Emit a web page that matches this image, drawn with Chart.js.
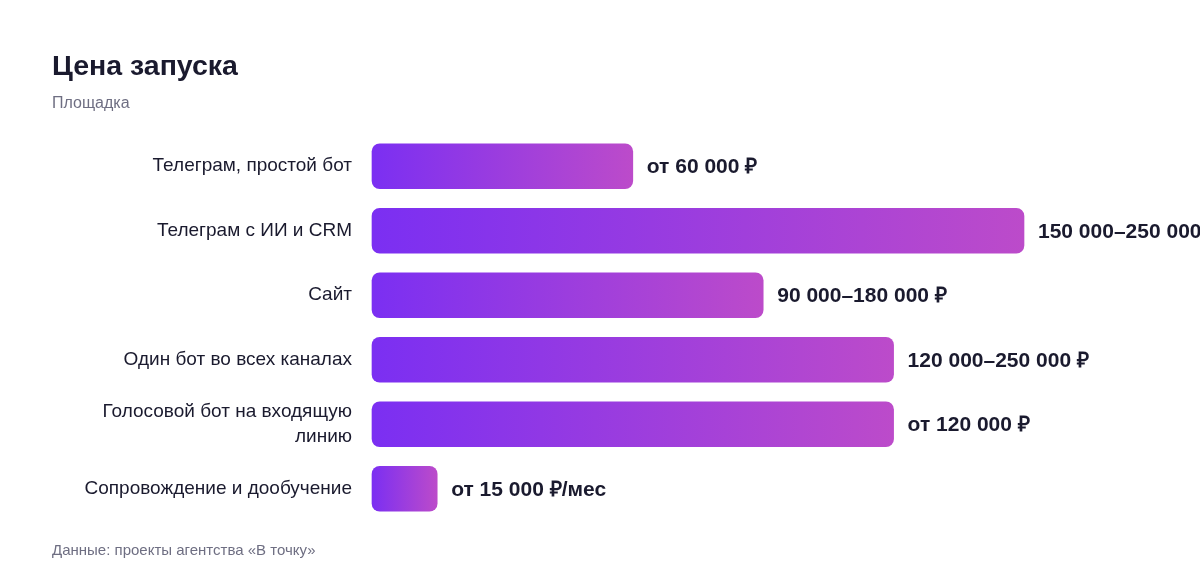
<!DOCTYPE html>
<html><head><meta charset="utf-8">
<script src="https://cdn.jsdelivr.net/npm/chart.js@4.4.1/dist/chart.umd.min.js"></script>
<style>
html,body{margin:0;padding:0;background:#fff;}
body{width:1200px;height:584px;position:relative;overflow:hidden;font-family:"Liberation Sans",Arial,sans-serif;}
#title{position:absolute;left:52px;top:51px;font-size:28.5px;font-weight:700;line-height:1;color:#1a1a2e;white-space:nowrap;}
#sub{position:absolute;left:52px;top:95px;font-size:16px;line-height:1;color:#6e6e82;white-space:nowrap;}
#foot{position:absolute;left:52px;top:542px;font-size:15px;line-height:1;color:#6e6e82;white-space:nowrap;}
#c{position:absolute;left:0;top:0;}
</style></head>
<body>
<canvas id="c" width="1200" height="584"></canvas>
<div id="title">Цена запуска</div>
<div id="sub">Площадка</div>
<div id="foot">Данные: проекты агентства «В точку»</div>
<script>
const categories = ["Телеграм, простой бот","Телеграм с ИИ и CRM","Сайт","Один бот во всех каналах",["Голосовой бот на входящую","линию"],"Сопровождение и дообучение"];
const priceFrom = [60000,150000,90000,120000,120000,15000];
const valueLabels = ["от 60 000 ₽","150 000–250 000 ₽","90 000–180 000 ₽","120 000–250 000 ₽","от 120 000 ₽","от 15 000 ₽/мес"];
const axisMax = 150000;

Chart.defaults.font.family = '"Liberation Sans", Arial, sans-serif';

const valueLabelPlugin = {
  id: 'valueLabels',
  afterDatasetsDraw(chart) {
    const ctx = chart.ctx;
    const meta = chart.getDatasetMeta(0);
    ctx.save();
    ctx.font = 'bold 21px "Liberation Sans", Arial, sans-serif';
    ctx.fillStyle = '#1a1a2e';
    ctx.textAlign = 'left';
    ctx.textBaseline = 'middle';
    meta.data.forEach((bar, i) => {
      ctx.fillText(valueLabels[i], bar.x + 14, bar.y + 1);
    });
    ctx.restore();
  }
};

function barGradient(c) {
  const chart = c.chart;
  if (c.type !== 'data' || !chart.chartArea) return '#9a3fdf';
  const xs = chart.scales.x;
  const x0 = xs.getPixelForValue(0);
  const x1 = xs.getPixelForValue(c.raw);
  const g = chart.ctx.createLinearGradient(x0, 0, x1, 0);
  g.addColorStop(0, '#7b2ff2');
  g.addColorStop(1, '#bc4bca');
  return g;
}

new Chart(document.getElementById('c'), {
  type: 'bar',
  data: {
    labels: categories,
    datasets: [{
      data: priceFrom,
      backgroundColor: barGradient,
      borderRadius: 8,
      borderSkipped: false,
      barThickness: 45,
      clip: false
    }]
  },
  options: {
    indexAxis: 'y',
    responsive: false,
    devicePixelRatio: 1,
    animation: false,
    layout: { padding: { top: 134, bottom: 63, left: 0, right: 176 } },
    plugins: { legend: { display: false }, tooltip: { enabled: false } },
    scales: {
      x: { display: false, min: 0, max: axisMax },
      y: {
        afterFit(s) { s.width = 372; },
        grid: { display: false, drawTicks: false },
        border: { display: false },
        ticks: { padding: 20, color: '#1a1a2e', font: { size: 19, lineHeight: 1.32 } }
      }
    }
  },
  plugins: [valueLabelPlugin]
});
</script>
</body></html>
